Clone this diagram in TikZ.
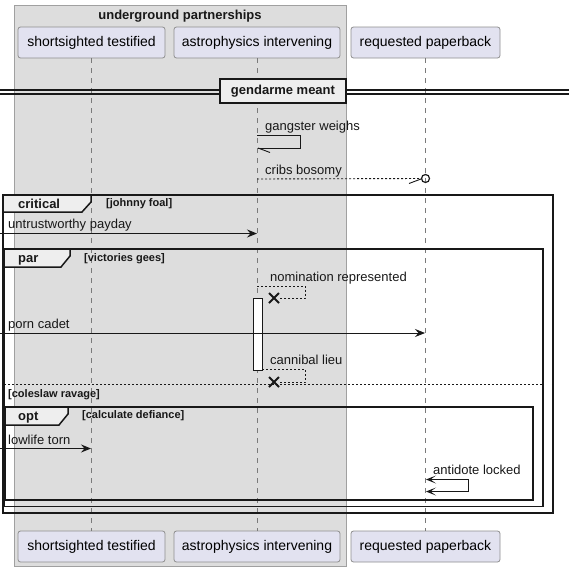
\documentclass[tikz,border=0pt]{standalone}
\usepackage{fontspec}
\setmainfont{Liberation Sans}
\usetikzlibrary{arrows.meta}
\definecolor{partfill}{HTML}{E2E2F0}
\definecolor{partline}{HTML}{8E8E8E}
\definecolor{boxfill}{HTML}{DDDDDD}
\definecolor{boxline}{HTML}{A0A0A0}
\definecolor{tabfill}{HTML}{EEEEEE}
\definecolor{lifecol}{HTML}{7A7A7A}
\definecolor{ink}{HTML}{181818}
\begin{document}
\begin{tikzpicture}[x=1pt,y=-1pt,
  participant/.style={draw=partline, fill=partfill, rounded corners=2.5pt, line width=0.8pt,
    minimum height=31pt, inner sep=0pt, font=\fontsize{14}{16}\selectfont},
  lifeline/.style={draw=lifecol, line width=0.8pt, dash pattern=on 5pt off 5pt},
  msgtext/.style={anchor=base west, inner sep=0pt, font=\fontsize{13}{15}\selectfont, text=ink},
  boldtext/.style={inner sep=0pt, font=\bfseries\fontsize{13}{15}\selectfont, text=ink},
  guardtext/.style={anchor=base west, inner sep=0pt, font=\bfseries\fontsize{11}{13}\selectfont, text=ink},
  msg/.style={draw=ink, line width=0.9pt, -{Stealth[length=10pt,width=8pt,inset=3.5pt]}},
  retmsg/.style={draw=ink, line width=0.9pt, dash pattern=on 2pt off 2pt},
  frameline/.style={draw=ink, line width=1.5pt},
  tab/.style={draw=ink, fill=tabfill, line width=1.5pt},
  destroy/.style={draw=ink, line width=2pt}]
\useasboundingbox (0,0) rectangle (569,571);

% group box behind the first two participants
\node[draw=boxline, fill=boxfill, line width=0.8pt, minimum width=332pt, minimum height=561pt, inner sep=0pt]
  (grp) at (180,285.5) {};
\node[boldtext, anchor=base] (grptitle) at (180,19) {underground partnerships};

% participants, top and bottom
\node[participant, minimum width=147pt] (pA)  at (91.5,42.5)  {shortsighted testified};
\node[participant, minimum width=166pt] (pB)  at (257,42.5)   {astrophysics intervening};
\node[participant, minimum width=149pt] (pC)  at (425.5,42.5) {requested paperback};
\node[participant, minimum width=147pt] (pAb) at (91.5,546.5) {shortsighted testified};
\node[participant, minimum width=166pt] (pBb) at (257,546.5)  {astrophysics intervening};
\node[participant, minimum width=149pt] (pCb) at (425.5,546.5) {requested paperback};

% lifelines
\draw[lifeline] (pA.south) -- (pAb.north);
\draw[lifeline] (pB.south) -- (pBb.north);
\draw[lifeline] (pC.south) -- (pCb.north);

% divider
\coordinate (dl1) at (0,90);   \coordinate (dr1) at (569,90);
\coordinate (dl2) at (0,94);   \coordinate (dr2) at (569,94);
\draw[draw=ink, line width=1.2pt] (dl1) -- (dr1);
\draw[draw=ink, line width=1.2pt] (dl2) -- (dr2);
\node[boldtext, draw=ink, fill=tabfill, line width=2pt, minimum width=126pt, minimum height=24pt]
  (div) at (283,91) {gendarme meant};

% gangster weighs (self message)
\coordinate (g1) at (257,135.5); \coordinate (g2) at (300,135.5);
\coordinate (g3) at (300,148);   \coordinate (g4) at (258,148);
\node[msgtext] (gt) at (265,130.5) {gangster weighs};
\draw[draw=ink, line width=0.9pt] (g1) -- (g2) -- (g3) -- (g4);
\draw[draw=ink, line width=0.9pt] (g4) -- ++(12,4.5);

% cribs bosomy
\coordinate (c1) at (257,179);
\coordinate (c2) at (421,179);
\node[msgtext] (ct) at (265,174) {cribs bosomy};
\node[draw=ink, line width=1.2pt, circle, minimum size=8pt, inner sep=0pt] (cend) at (425.5,178.5) {};
\draw[retmsg] (c1) -- (cend.west);
\draw[draw=ink, line width=0.9pt] (c2) -- ++(-12,4.5);

% critical frame
\draw[frameline] (3,195) rectangle (553,513);
\draw[tab] (3,195) -- (91,195) -- (91,202) -- (82,212) -- (3,212) -- cycle;
\node[boldtext, anchor=base west] (critlbl) at (18,208.5) {critical};
\node[guardtext] (critg) at (106,206) {[johnny foal]};

% untrustworthy payday
\coordinate (u1) at (0,233.5); \coordinate (u2) at (257,233.5);
\node[msgtext] (ut) at (8,228.5) {untrustworthy payday};
\draw[msg] (u1) -- (u2);

% par frame
\draw[frameline] (4,249) rectangle (543,506.5);
\draw[tab] (4,249) -- (70,249) -- (70,256) -- (61,267) -- (4,267) -- cycle;
\node[boldtext, anchor=base west] (parlbl) at (18,262.5) {par};
\node[guardtext] (parg) at (84,261) {[victories gees]};

% nomination represented (self message, destroyed)
\coordinate (n1) at (257,286); \coordinate (n2) at (305.5,286);
\coordinate (n3) at (305.5,298); \coordinate (n4) at (279,298);
\node[msgtext] (nt) at (270,281) {nomination represented};
\draw[retmsg] (n1) -- (n2) -- (n3) -- (n4);
\draw[destroy] (269,293) -- (279,303) (269,303) -- (279,293);

% activation bar
\node[draw=ink, fill=white, line width=0.9pt, minimum width=9pt, minimum height=72pt, inner sep=0pt]
  (act) at (257.5,334) {};

% porn cadet
\coordinate (p1) at (0,333); \coordinate (p2) at (425,333);
\node[msgtext] (pt) at (8,328) {porn cadet};
\draw[msg] (p1) -- (p2);

% cannibal lieu (self message, destroyed)
\coordinate (k1) at (262,369.5); \coordinate (k2) at (305.5,369.5);
\coordinate (k3) at (305.5,382); \coordinate (k4) at (279,382);
\node[msgtext] (kt) at (270,364) {cannibal lieu};
\draw[retmsg] (k1) -- (k2) -- (k3) -- (k4);
\draw[destroy] (269,377) -- (279,387) (269,387) -- (279,377);

% else separator
\coordinate (e1) at (4,384.5); \coordinate (e2) at (543,384.5);
\draw[retmsg, line width=0.8pt] (e1) -- (e2);
\node[guardtext] (elseg) at (8,397) {[coleslaw ravage]};

% opt frame
\draw[frameline] (5,407) rectangle (533,500);
\draw[tab] (5,407) -- (68,407) -- (68,414) -- (59,425) -- (5,425) -- cycle;
\node[boldtext, anchor=base west] (optlbl) at (18,420.5) {opt};
\node[guardtext] (optg) at (82,418.5) {[calculate defiance]};

% lowlife torn
\coordinate (l1) at (0,448.5); \coordinate (l2) at (91,448.5);
\node[msgtext] (lt) at (8,444) {lowlife torn};
\draw[msg] (l1) -- (l2);

% antidote locked (self message, both ends)
\coordinate (a1) at (426,479.5); \coordinate (a2) at (468,479.5);
\coordinate (a3) at (468,491.5); \coordinate (a4) at (426,491.5);
\node[msgtext] (at) at (433,474) {antidote locked};
\draw[draw=ink, line width=0.9pt, {Stealth[length=10pt,width=8pt,inset=5.5pt]}-{Stealth[length=10pt,width=8pt,inset=5.5pt]}]
  (a1) -- (a2) -- (a3) -- (a4);
\end{tikzpicture}
\end{document}
